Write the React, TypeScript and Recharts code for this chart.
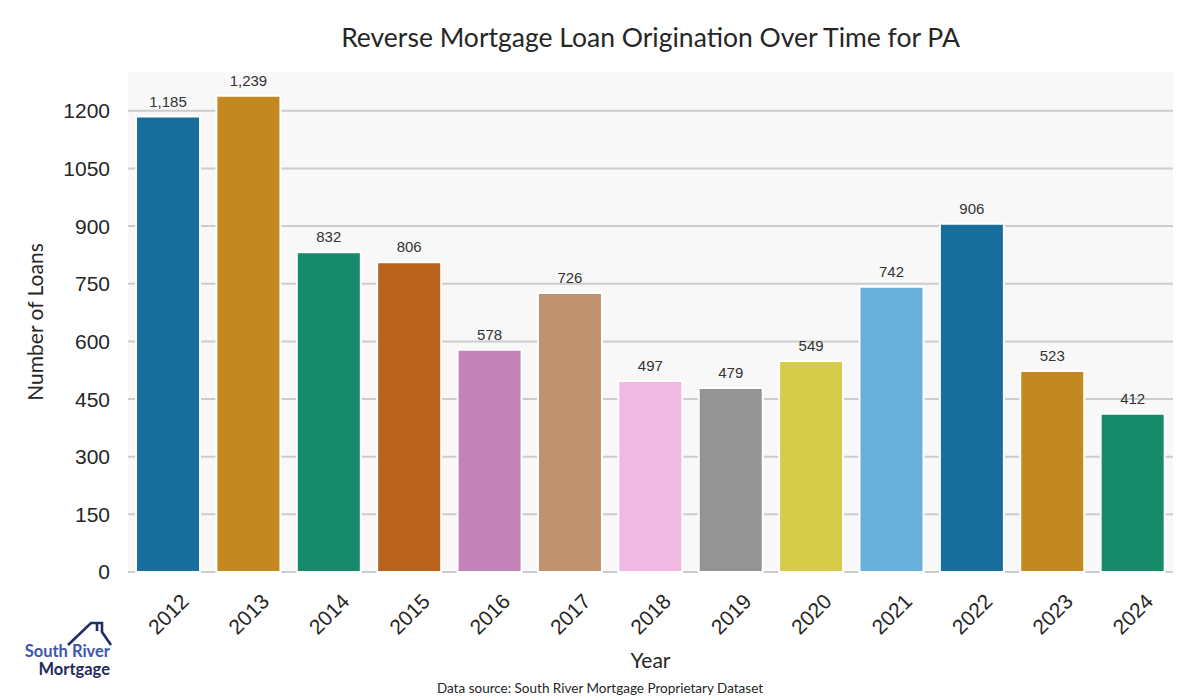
import { BarChart, Bar, XAxis, YAxis, CartesianGrid, Cell, LabelList } from 'recharts'

const years = ['2012', '2013', '2014', '2015', '2016', '2017', '2018', '2019', '2020', '2021', '2022', '2023', '2024']
const loans = [1185, 1239, 832, 806, 578, 726, 497, 479, 549, 742, 906, 523, 412]
const yTicks = [0, 150, 300, 450, 600, 750, 900, 1050, 1200]
const palette = [
  '#176e9c', '#c48821', '#178b69', '#b8621e', '#c283b7',
  '#bf9370', '#f0b9e1', '#949494', '#d5cc4a', '#68b0d9',
]

const data = years.map((y, i) => ({ year: y, loans: loans[i] }))

const titleFont = 'Lato, "Open Sans", sans-serif'
const numFont = '"Liberation Sans", Arial, sans-serif'

const YearTick = (props: any) => {
  const { x, y, payload } = props
  return (
    <text
      transform={`translate(${x},${y + 34}) rotate(-45)`}
      textAnchor="middle"
      dominantBaseline="central"
      fontFamily={numFont}
      fontSize={21}
      fill="#262626"
    >
      {payload.value}
    </text>
  )
}

function Logo() {
  return (
    <svg width={130} height={80} style={{ position: 'absolute', left: 0, top: 610 }}>
      <g fill="none" stroke="#222d63" strokeWidth={2.6} strokeLinejoin="miter">
        <polyline points="68,35 91,13 102,13 102,22 111,35" />
        <line x1={97} y1={13} x2={97} y2={21} />
      </g>
      <text x={110} y={47} textAnchor="end" fontFamily={titleFont} fontWeight={700} fontSize={16.5} fill="#3d56ad">
        South River
      </text>
      <text x={110} y={65} textAnchor="end" fontFamily={titleFont} fontWeight={700} fontSize={16.5} fill="#1f2a5e">
        Mortgage
      </text>
    </svg>
  )
}

export default function App() {
  return (
    <div style={{ position: 'absolute', left: 0, top: 0, width: 1200, height: 700, background: '#fff' }}>
      <div
        style={{
          position: 'absolute', left: 128, width: 1045, top: 21, textAlign: 'center',
          fontFamily: titleFont, fontSize: 26.5, color: '#262626',
        }}
      >
        Reverse Mortgage Loan Origination Over Time for PA
      </div>
      <BarChart
        width={1200}
        height={700}
        data={data}
        margin={{ top: 72, right: 27, bottom: 0, left: 68 }}
        barCategoryGap="10%"
      >
        <CartesianGrid
          vertical={false}
          horizontalValues={yTicks}
          fill="#f8f8f8"
          stroke="#cccccc"
          strokeWidth={2}
        />
        <XAxis dataKey="year" height={128} axisLine={false} tickLine={false} tick={<YearTick />} interval={0} />
        <YAxis
          width={60}
          domain={[0, 1301]}
          ticks={yTicks}
          axisLine={false}
          tickLine={false}
          tickSize={0}
          tickMargin={18}
          tick={{ fontFamily: numFont, fontSize: 21, fill: '#262626' }}
        />
        <Bar dataKey="loans" isAnimationActive={false} stroke="#ffffff" strokeWidth={2}>
          {data.map((d, i) => (
            <Cell key={d.year} fill={palette[i % palette.length]} />
          ))}
          <LabelList
            dataKey="loans"
            position="top"
            offset={10}
            formatter={(v: any) => Number(v).toLocaleString('en-US')}
            style={{ fontFamily: numFont, fontSize: 15, fill: '#333333' }}
          />
        </Bar>
      </BarChart>
      <div
        style={{
          position: 'absolute', left: 34, top: 322, transform: 'translate(-50%, -50%) rotate(-90deg)',
          transformOrigin: 'center', whiteSpace: 'nowrap', fontFamily: titleFont, fontSize: 21, color: '#262626',
        }}
      >
        Number of Loans
      </div>
      <div
        style={{
          position: 'absolute', left: 128, width: 1045, top: 647, textAlign: 'center',
          fontFamily: titleFont, fontSize: 21, color: '#262626',
        }}
      >
        Year
      </div>
      <div
        style={{
          position: 'absolute', left: 0, width: 1200, top: 680, textAlign: 'center',
          fontFamily: titleFont, fontSize: 13.5, color: '#262626',
        }}
      >
        Data source: South River Mortgage Proprietary Dataset
      </div>
      <Logo />
    </div>
  )
}
